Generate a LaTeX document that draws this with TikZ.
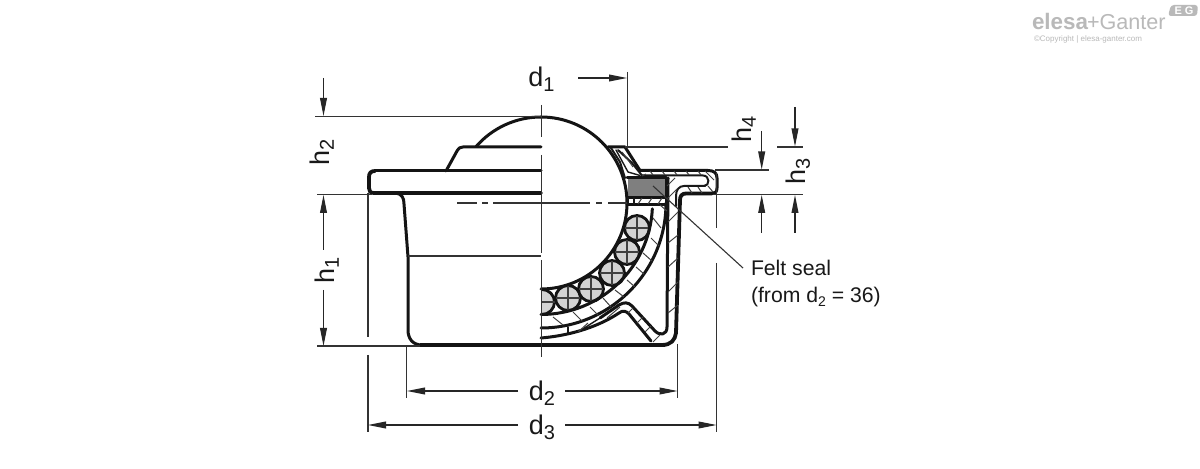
\documentclass[tikz,border=0pt]{standalone}
\usepackage{fontspec}
\setmainfont{Liberation Sans}
\usetikzlibrary{arrows.meta}
\newcommand{\dimlab}[2]{\fontsize{13.5}{15}\selectfont #1\raisebox{-2.4pt}{\fontsize{10}{11}\selectfont #2}}
\tikzset{
  x=0.5pt,y=-0.5pt,
  sec/.style={line width=1.5pt,line join=round,line cap=round,black!92},
  secthin/.style={line width=1pt,line join=round,line cap=round,black!90},
  hatchl/.style={line width=0.5pt,black!75},
  dimline/.style={line width=0.55pt,black!80},
  dimarrow/.style={line width=0.55pt,black!85,-{Triangle[length=9pt,width=3.4pt]}},
  axisline/.style={line width=0.55pt,black!80},
  lab/.style={inner sep=0pt,outer sep=0pt,text=black!90},
  rollball/.style={fill=ballgrey,draw=black!92,line width=1.4pt},
}
\definecolor{ballgrey}{HTML}{D3D3D3}
\definecolor{feltgrey}{HTML}{7F7F7F}
\definecolor{logogrey}{HTML}{B9B9B9}
\newcommand{\rball}[2]{%
  \draw[rollball] (#1,#2) circle[radius=12.5];
  \draw[hatchl,line width=0.6pt] (#1-12,#2)--(#1+12,#2) (#1,#2-12)--(#1,#2+12);}
\begin{document}
\begin{tikzpicture}
\useasboundingbox (0,0) rectangle (1200,469);
\fill[white] (0,0) rectangle (1200,469);

% ---- logo
\node[lab,anchor=base west,text=logogrey,font=\fontsize{11.2}{14}\bfseries\selectfont] (logoA) at (1032,30) {elesa};
\node[lab,anchor=base west,text=logogrey,font=\fontsize{10.8}{14}\selectfont] (logoB) at (1087,30) {+Ganter};
\node[lab,anchor=base west,text=logogrey,font=\fontsize{4}{5}\selectfont] (logoC) at (1034,42) {©Copyright | elesa-ganter.com};
\fill[logogrey,rounded corners=1.5pt] (1168,16) -- (1171,5) -- (1198,5) -- (1197,16) -- cycle;
\node[lab,text=white,font=\fontsize{5.5}{6}\bfseries\selectfont] (logoD) at (1184,10.5) {E G};

% ---- felt seal
\fill[feltgrey] (628,178) rectangle (665,198);

% ---- ball rollers
\begin{scope}
  \clip (541.5,280) rectangle (560,320);
  \draw[rollball] (542,302) circle[radius=12.5];
  \draw[hatchl,line width=0.6pt] (541,302)--(556,302);
\end{scope}
\rball{568}{298}
\rball{591}{289}
\rball{612}{273}
\rball{627}{252}
\rball{637}{228}

% ---- left half: outside view
\draw[sec,line width=1.9pt] (541,193) -- (374,193) .. controls (370,193) and (369,191) .. (369,188)
   -- (369,177) .. controls (369,173) and (371,171) .. (375,171);
\draw[sec] (375,171) -- (541,171);
\draw[sec] (446,171) -- (457,151) .. controls (459,148) and (460,147) .. (463,147) -- (541,147);
\draw[sec] (396,193) .. controls (402,194) and (404,198) .. (404,204) -- (408,257) -- (408,330)
   .. controls (408,339) and (413,345) .. (422,345);
\draw[line width=1.9pt,black!92] (420,345) -- (665,345);
\draw[dimline] (408,256) -- (541,256);

% ---- ball
\draw[sec] (541,203) ++(-139:86) arc[start angle=-139,end angle=-90,radius=86];
\draw[sec] (541,117) arc[start angle=-90,end angle=90,radius=86];

% ---- race shell
\draw[sec] (541,314.5) arc[start angle=90,end angle=3,radius=111.5];
\draw[sec] (541,328) arc[start angle=90,end angle=0,radius=125];
\draw[secthin] (568,327) -- (568,334);

% ---- body outer and inner
\draw[sec] (541,338) .. controls (565,336) and (595,329) .. (619,313)
   .. controls (623,310) and (626,311) .. (629,314) -- (651,341);
\draw[secthin,line width=0.7pt] (578,332) -- (600,318);
\draw[sec] (600,318) -- (619,305) .. controls (624,302) and (628,302) .. (632,306) -- (655,331)
   .. controls (660,336) and (667,335) .. (667,327) -- (668,178);
\draw[sec,line width=1.9pt] (712,193.5) -- (686,193.5) .. controls (682,193.5) and (680,196) .. (680,200)
   -- (676,333) .. controls (675,340) and (671,345) .. (662,345);
\draw[secthin] (705,186) -- (684,186) .. controls (679,186) and (676,190) .. (676,196) -- (676,206);

% ---- cap
\draw[sec] (608,147) -- (625,147) -- (640,170.5) -- (708,170.5) .. controls (714,170.5) and (717,173) .. (717,178)
   -- (717,188) .. controls (717,192) and (715,193.5) .. (712,193.5);
\draw[secthin] (618,150) -- (632,163) -- (642,175.5) -- (703,175.5) .. controls (710,175.5) and (710,186) .. (704,186);
\draw[secthin] (611,148) -- (620,162) -- (625,178);
\draw[secthin,line width=0.7pt] (616,150) -- (628,172) -- (640,175.5);
\draw[sec] (627,178) -- (666,178) -- (666,203);
\draw[sec] (627,198) -- (666,198);
\draw[sec] (627,204.5) -- (667,204.5);
\draw[secthin] (628,198) -- (628,204) (634,198) -- (634,204);

% ---- hatching
\foreach \a/\b/\c/\d in {553/317/563/325, 573/312/582/321, 590/307/598/315, 603/298/611/307, 615/290/624/297,
   627/280/635/287, 636/267/644/274, 643/253/652/261, 651/238/659/246, 653/218/661/228,
   668/222/678/212, 668/243/678/235, 668/267/678/258, 668/292/678/282, 668/313/678/305,
   578/332/588/323, 607/318/620/307, 628/313/633/308, 637/323/643/317, 645/332/651/326, 653/342/660/335,
   650/171/653/175, 662/171/665/175, 674/171/677/175, 686/171/689/175, 698/171/701/175,
   705/171/714/180, 708/186/713/192, 688/187/692/193, 698/187/702/193,
   638/204/642/198, 648/204/652/198, 658/204/662/198, 660/205/667/211,
   622/152/628/160, 628/160/633/167, 667/186/675/178, 667/199/677/189, 642/176/646/174}
  {\draw[hatchl] (\a,\b) -- (\c,\d);}

% ---- centre lines
\draw[axisline] (541.5,105) -- (541.5,137) (541.5,155) -- (541.5,253) (541.5,260) -- (541.5,357);
\draw[axisline] (457,203) -- (477,203) (482,203) -- (488,203) (493,203) -- (590,203) (596,203) -- (602,203) (608,203) -- (627,203);

% ---- extension lines
\draw[dimline] (315,116.5) -- (541,116.5);
\draw[dimline] (317,194.5) -- (372,194.5);
\draw[dimline] (317,346) -- (420,346);
\draw[dimline] (368,193) -- (368,337) (368,355) -- (368,432);
\draw[dimline] (716.7,172) -- (716.7,228) (716.7,263) -- (716.7,432);
\draw[dimline] (406.7,346) -- (406.7,398);
\draw[dimline] (677.7,344) -- (677.7,398);
\draw[dimline] (627.5,72) -- (627.5,147);
\draw[dimline] (625,147) -- (728,147) (777,147) -- (803,147);
\draw[dimline] (715,170) -- (769,170);
\draw[dimline] (713,194.5) -- (803,194.5);

% ---- dimensions: named ends
\coordinate (h2a) at (323.5,78);   \coordinate (h2b) at (323.5,116);
\coordinate (h1a) at (323.5,250);  \coordinate (h1b) at (323.5,195);
\coordinate (h1c) at (323.5,290);  \coordinate (h1d) at (323.5,346);
\coordinate (d1a) at (578,78);     \coordinate (d1b) at (627,78);
\coordinate (d2a) at (518,391);    \coordinate (d2b) at (407,391);
\coordinate (d2c) at (565,391);    \coordinate (d2d) at (677.5,391);
\coordinate (d3a) at (518,425);    \coordinate (d3b) at (368,425);
\coordinate (d3c) at (565,425);    \coordinate (d3d) at (716.5,425);
\coordinate (h4a) at (761.7,131);  \coordinate (h4b) at (761.7,169.5);
\coordinate (h4c) at (761.7,233);  \coordinate (h4d) at (761.7,195);
\coordinate (h3a) at (795,107);    \coordinate (h3b) at (795,146.5);
\coordinate (h3c) at (795,233);    \coordinate (h3d) at (795,195);
\foreach \s/\e in {h2a/h2b,h1a/h1b,h1c/h1d,d1a/d1b,d2a/d2b,d2c/d2d,d3a/d3b,d3c/d3d,h4a/h4b,h4c/h4d,h3a/h3b,h3c/h3d}
  {\draw[dimarrow] (\s) -- (\e);}

% ---- labels
\node[lab,anchor=base] (ld1) at (541.5,87) {\dimlab{d}{1}};
\node[lab,anchor=base] (ld2) at (542,401) {\dimlab{d}{2}};
\node[lab,anchor=base] (ld3) at (542,435) {\dimlab{d}{3}};
\node[lab,rotate=90,anchor=base] (lh2) at (329,152) {\dimlab{h}{2}};
\node[lab,rotate=90,anchor=base] (lh1) at (334,270) {\dimlab{h}{1}};
\node[lab,rotate=90,anchor=base] (lh4) at (751,129) {\dimlab{h}{4}};
\node[lab,rotate=90,anchor=base] (lh3) at (805,171) {\dimlab{h}{3}};

\node[lab,anchor=base west,font=\fontsize{10.6}{13}\selectfont] (felt) at (751,276) {Felt seal};
\node[lab,anchor=base west,font=\fontsize{10.6}{13}\selectfont] (from) at (751,303) {(from d\raisebox{-1.6pt}{\fontsize{7}{8}\selectfont 2} = 36)};
\coordinate (leadS) at (653,186);
\coordinate (leadE) at (743,268);
\draw[dimline] (leadS) -- (leadE);
\end{tikzpicture}
\end{document}
